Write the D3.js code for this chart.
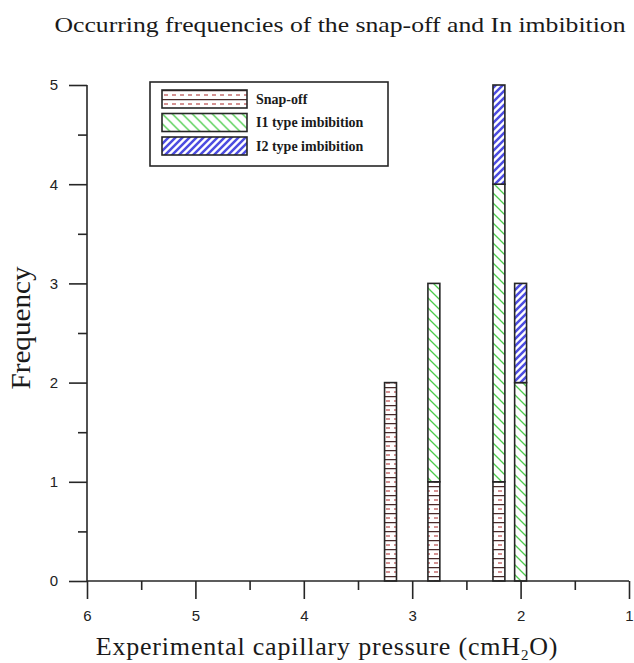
<!DOCTYPE html>
<html>
<head>
<meta charset="utf-8">
<script src="https://cdn.jsdelivr.net/npm/d3@7"></script>
<style>
  body { margin: 0; background: #fff; }
  svg { display: block; }
</style>
</head>
<body>
<svg id="chart" width="634" height="663"></svg>
<script>
// data
const pressures = [3.2, 2.8, 2.2, 2.0];
const snapOff = [2, 1, 1, 0];
const i1Type = [0, 2, 3, 2];
const i2Type = [0, 0, 1, 1];
const seriesKeys = ["snap", "i1", "i2"];
const seriesNames = ["Snap-off", "I1 type imbibition", "I2 type imbibition"];
const xTickValues = [6, 5, 4, 3, 2, 1];
const xMinorValues = [5.5, 4.5, 3.5, 2.5, 1.5];
const yTickValues = [0, 1, 2, 3, 4, 5];
const yMinorValues = [0.5, 1.5, 2.5, 3.5, 4.5];

const table = pressures.map((p, i) => ({ p: p, snap: snapOff[i], i1: i1Type[i], i2: i2Type[i] }));

const svg = d3.select("#chart");
const ink = "#262626";

const x = d3.scaleLinear().domain([6, 1]).range([87, 629]);
const y = d3.scaleLinear().domain([0, 5]).range([581, 85]);
const barW = 0.11;

// hatch patterns
const defs = svg.append("defs");

const pSnap = defs.append("pattern").attr("id", "pat-snap")
  .attr("patternUnits", "userSpaceOnUse").attr("width", 8).attr("height", 9);
pSnap.append("rect").attr("width", 8).attr("height", 9).attr("fill", "#fff");
pSnap.append("line").attr("x1", 0).attr("x2", 8).attr("y1", 0.6).attr("y2", 0.6)
  .attr("stroke", "#4a2a2a").attr("stroke-width", 1.3);
pSnap.append("line").attr("x1", 2).attr("x2", 6).attr("y1", 5).attr("y2", 5)
  .attr("stroke", "#b84848").attr("stroke-width", 1.2);

const pI1 = defs.append("pattern").attr("id", "pat-i1")
  .attr("patternUnits", "userSpaceOnUse").attr("width", 10).attr("height", 10);
pI1.append("rect").attr("width", 10).attr("height", 10).attr("fill", "#fff");
pI1.append("path").attr("d", "M-1,-1 L11,11 M-1,9 L1,11 M9,-1 L11,1")
  .attr("stroke", "#4ccc4c").attr("stroke-width", 1.3).attr("fill", "none");

const pI2 = defs.append("pattern").attr("id", "pat-i2")
  .attr("patternUnits", "userSpaceOnUse").attr("width", 7).attr("height", 7);
pI2.append("rect").attr("width", 7).attr("height", 7).attr("fill", "#fff");
pI2.append("path").attr("d", "M-1,8 L8,-1 M-1,1 L1,-1 M6,8 L8,6")
  .attr("stroke", "#4c4ce0").attr("stroke-width", 2.5).attr("fill", "none");

const fills = { snap: "url(#pat-snap)", i1: "url(#pat-i1)", i2: "url(#pat-i2)" };

// title
svg.append("text")
  .attr("x", 340).attr("y", 32)
  .attr("text-anchor", "middle")
  .attr("textLength", 571).attr("lengthAdjust", "spacingAndGlyphs")
  .style("font", "22px 'Liberation Serif', serif")
  .attr("fill", "#1a1a1a")
  .text("Occurring frequencies of the snap-off and In imbibition");

// stacked bars
const stacked = d3.stack().keys(seriesKeys)(table);

svg.append("g").selectAll("g")
  .data(stacked)
  .join("g")
    .attr("fill", d => fills[d.key])
  .selectAll("rect")
  .data(d => d.filter(s => s[1] > s[0]))
  .join("rect")
    .attr("x", d => x(d.data.p + barW / 2))
    .attr("width", d => x(d.data.p - barW / 2) - x(d.data.p + barW / 2))
    .attr("y", d => y(d[1]))
    .attr("height", d => y(d[0]) - y(d[1]))
    .attr("stroke", ink)
    .attr("stroke-width", 1.6);

// axes
const xAxis = svg.append("g").attr("transform", "translate(0,581)")
  .call(d3.axisBottom(x).tickValues(xTickValues).tickSize(18).tickPadding(11).tickFormat(d3.format("d")));
const xMinor = svg.append("g").attr("transform", "translate(0,581)")
  .call(d3.axisBottom(x).tickValues(xMinorValues).tickSize(9).tickFormat(""));
const yAxis = svg.append("g").attr("transform", "translate(87,0)")
  .call(d3.axisLeft(y).tickValues(yTickValues).tickSize(18).tickPadding(11).tickFormat(d3.format("d")));
const yMinor = svg.append("g").attr("transform", "translate(87,0)")
  .call(d3.axisLeft(y).tickValues(yMinorValues).tickSize(9).tickFormat(""));

[xAxis, xMinor, yAxis, yMinor].forEach(g => {
  g.selectAll("path.domain").attr("stroke", ink).attr("stroke-width", 1.6);
  g.selectAll(".tick line").attr("stroke", ink).attr("stroke-width", 1.6);
  g.selectAll(".tick text")
    .style("font", "15px 'Liberation Sans', Arial, sans-serif")
    .attr("fill", "#222");
});
xMinor.select("path.domain").remove();
yMinor.select("path.domain").remove();
// plain axis lines, no outer end ticks
xAxis.select("path.domain").attr("d", `M${x(6)},0H${x(1)}`);
yAxis.select("path.domain").attr("d", `M0,${y(0)}V${y(5)}`);

// axis titles
const xl = svg.append("text")
  .attr("x", 327).attr("y", 655)
  .attr("text-anchor", "middle")
  .style("font", "26px 'Liberation Serif', serif")
  .style("letter-spacing", "0.8px")
  .attr("fill", "#1a1a1a");
xl.append("tspan").text("Experimental capillary pressure (cmH");
xl.append("tspan").text("2").style("font-size", "15px").attr("dy", 5);
xl.append("tspan").text("O)").attr("dy", -5);

svg.append("text")
  .attr("transform", "translate(30,328) rotate(-90)")
  .attr("text-anchor", "middle")
  .attr("textLength", 123).attr("lengthAdjust", "spacingAndGlyphs")
  .style("font", "27px 'Liberation Serif', serif")
  .attr("fill", "#1a1a1a")
  .text("Frequency");

// legend
const legend = svg.append("g");
legend.append("rect")
  .attr("x", 150).attr("y", 82).attr("width", 238).attr("height", 84)
  .attr("fill", "#fff").attr("stroke", ink).attr("stroke-width", 1.6);

const rows = legend.selectAll("g.row")
  .data(seriesKeys)
  .join("g")
    .attr("class", "row")
    .attr("transform", (d, i) => `translate(162,${90 + i * 23.5})`);
rows.append("rect")
  .attr("width", 85).attr("height", 18)
  .attr("fill", d => fills[d])
  .attr("stroke", ink).attr("stroke-width", 1.6);
rows.append("text")
  .attr("x", 94).attr("y", 9).attr("dy", "0.35em")
  .style("font", "bold 14px 'Liberation Serif', serif")
  .attr("fill", "#1a1a1a")
  .text((d, i) => seriesNames[i]);
</script>
</body>
</html>
